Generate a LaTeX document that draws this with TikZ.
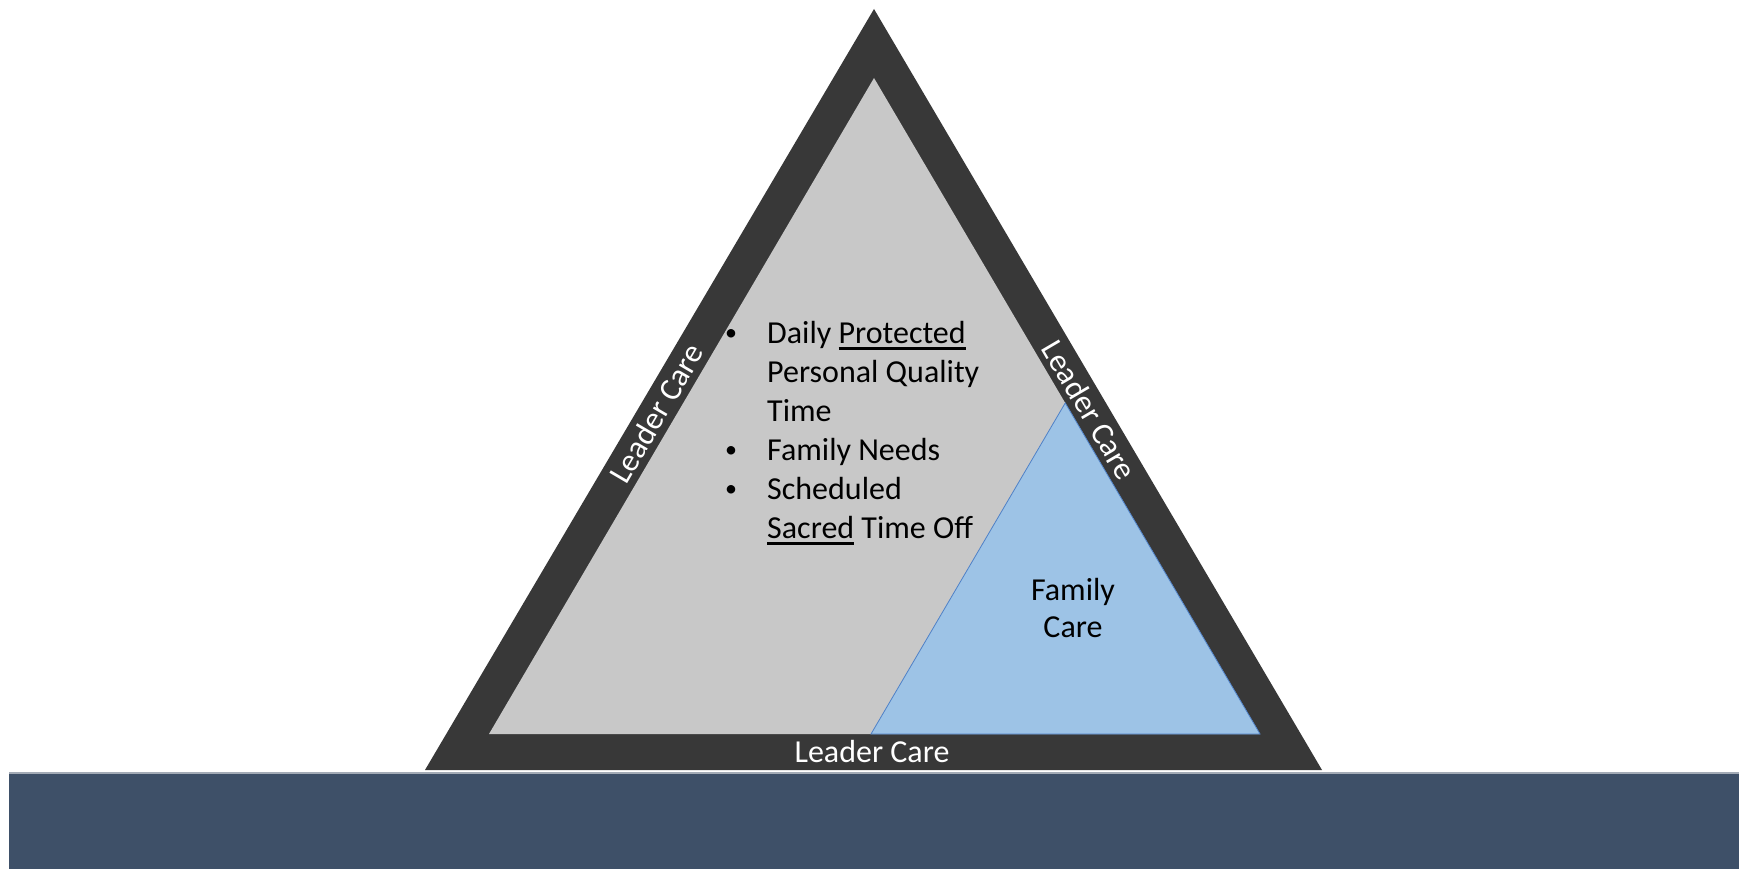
\documentclass[tikz,border=0pt]{standalone}
\usepackage{fontspec}
\setmainfont{Carlito}
\usetikzlibrary{calc}

\definecolor{rimdark}{HTML}{383838}
\definecolor{innergray}{HTML}{C8C8C8}
\definecolor{famblue}{HTML}{9DC3E6}
\definecolor{famedge}{HTML}{4F81C7}
\definecolor{groundband}{HTML}{3E5068}
\definecolor{groundedge}{HTML}{A3ABB6}

% underline drawn a little below the baseline
\newsavebox{\ulbox}
\newcommand{\ulword}[1]{\sbox{\ulbox}{#1}\rlap{\rule[-6.5pt]{\wd\ulbox}{2.4pt}}\usebox{\ulbox}}

\tikzset{
  rimlabel/.style={text=white, inner sep=0pt, font=\fontsize{32}{38}\selectfont},
  bodytext/.style={text=black, inner sep=0pt, anchor=base west, font=\fontsize{32}{38}\selectfont},
  bulletmark/.style={text=black, inner sep=0pt, anchor=base, font=\fontsize{24}{30}\selectfont},
  famtext/.style={text=black, inner sep=0pt, anchor=base, font=\fontsize{32}{38}\selectfont},
}

\begin{document}
\begin{tikzpicture}[x=1pt,y=-1pt]
  \useasboundingbox (0,0) rectangle (1739,869);
  \fill[white] (0,0) rectangle (1739,869);

  % ground band
  \fill[groundband] (9,773) rectangle (1739,869);
  \draw[groundedge, line width=1.5pt] (9,773) -- (1739,773);

  % triangle corners: outer rim, inner face, rim midline
  \coordinate (A) at (874,9);
  \coordinate (B) at (425,770);
  \coordinate (C) at (1322,770);
  \coordinate (iA) at (874,78);
  \coordinate (iB) at (489,734);
  \coordinate (iC) at (1260,734);
  \coordinate (mA) at (874,43.5);
  \coordinate (mB) at (457,752);
  \coordinate (mC) at (1291,752);
  \coordinate (fB) at (871,734);
  \coordinate (fA) at ($(iC)!0.5046!(iA)$);

  \fill[rimdark] (A) -- (B) -- (C) -- cycle;
  \fill[innergray] (iA) -- (iB) -- (iC) -- cycle;
  \filldraw[fill=famblue, draw=famedge, line width=0.8pt, line join=miter]
    (fB) -- (fA) -- (iC) -- cycle;

  % rim labels
  \node[rimlabel, rotate=59.6] (lcL) at ($(mB)!0.478!(mA)$) {Leader Care};
  \node[rimlabel, rotate=-59.6] (lcR) at ($(mC)!0.483!(mA)$) {Leader Care};
  \node[rimlabel] (lcB) at (872,752) {Leader Care};

  % bullet list
  \node[bulletmark] (b1) at (731,340.5) {•};
  \node[bodytext] (t1) at (767,343) {Daily \ulword{Protected}};
  \node[bodytext] (t2) at (767,382) {Personal Quality};
  \node[bodytext] (t3) at (767,421) {Time};
  \node[bulletmark] (b2) at (731,457.5) {•};
  \node[bodytext] (t4) at (767,460) {Family Needs};
  \node[bulletmark] (b3) at (731,496.5) {•};
  \node[bodytext] (t5) at (767,499) {Scheduled};
  \node[bodytext] (t6) at (767,538) {\ulword{Sacred} Time Off};

  % family care label
  \node[famtext] (f1) at (1073,600) {Family};
  \node[famtext] (f2) at (1073,637) {Care};
\end{tikzpicture}
\end{document}
